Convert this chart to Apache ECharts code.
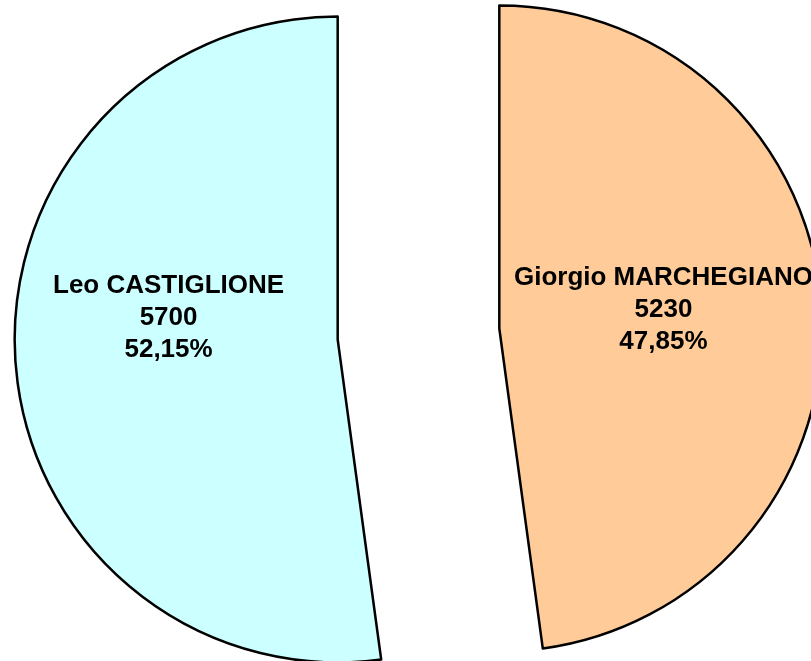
<!DOCTYPE html>
<html>
<head>
<meta charset="utf-8">
<script src="https://cdn.jsdelivr.net/npm/echarts@6/dist/echarts.min.js"></script>
<style>
  html, body { margin: 0; padding: 0; background: #fff; }
  #chart { width: 811px; height: 661px; }
</style>
</head>
<body>
<div id="chart"></div>
<script>
var names = ['Giorgio MARCHEGIANO', 'Leo CASTIGLIONE'];
var votes = [5230, 5700];
var colors = ['#FFCC99', '#CCFFFF'];

// label nudges per slice (the source placed them a bit off the slice middle)
var labelShift = [[0, -8], [-5, -33]];

var chart = echarts.init(document.getElementById('chart'));

var pieData = names.map(function (n, i) {
    return {
        name: n,
        value: votes[i],
        selected: true,
        itemStyle: { color: colors[i] }
    };
});

var option = {
    animation: false,
    series: [{
        type: 'pie',
        center: [418.5, 334],
        radius: 323,
        startAngle: 90,
        clockwise: true,
        selectedMode: 'multiple',
        selectedOffset: 81,
        data: pieData,
        itemStyle: { borderColor: '#000', borderWidth: 2.5 },
        select: { itemStyle: { borderColor: '#000', borderWidth: 2.5 } },
        emphasis: { disabled: true },
        label: {
            position: 'inside',
            color: '#000',
            fontFamily: 'Liberation Sans, Arial, sans-serif',
            fontWeight: 'bold',
            fontSize: 26,
            lineHeight: 32,
            formatter: function (p) {
                return p.name + '\n' + p.value + '\n' + p.percent.toFixed(2).replace('.', ',') + '%';
            }
        },
        labelLine: { show: false },
        labelLayout: function (params) {
            var s = labelShift[params.dataIndex];
            return { dx: s[0], dy: s[1] };
        }
    }]
};

chart.setOption(option);
</script>
</body>
</html>
